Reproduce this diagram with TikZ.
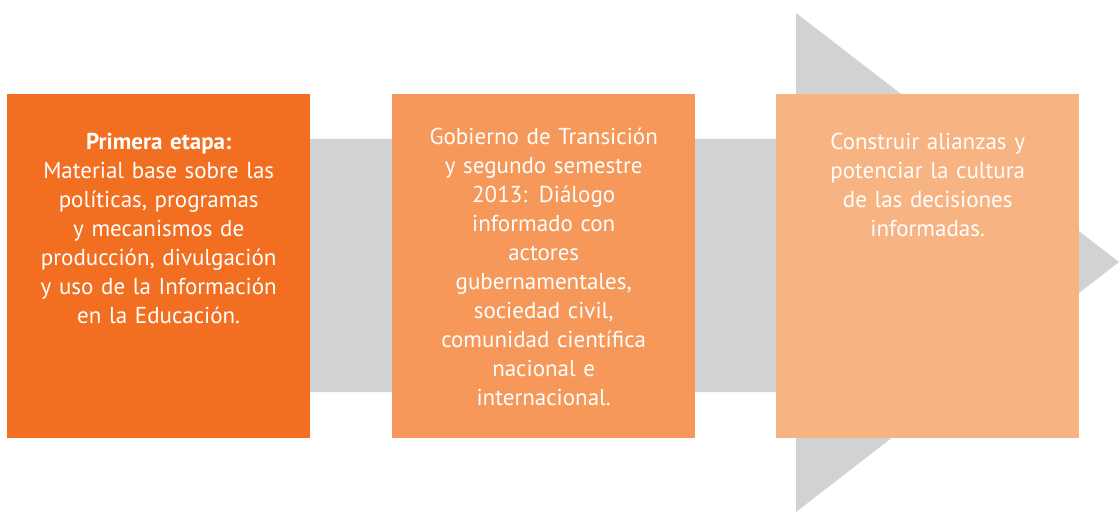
\documentclass[tikz,border=0pt]{standalone}
\usepackage{fontspec}
\setmainfont{PT Sans}
\usetikzlibrary{positioning}
\definecolor{etapaA}{HTML}{F26F21}
\definecolor{etapaB}{HTML}{F5985A}
\definecolor{etapaC}{HTML}{F8B383}
\definecolor{flecha}{HTML}{D1D2D4}
\tikzstyle{etapa}=[rectangle,draw=none,minimum width=303pt,minimum height=344pt,inner sep=0pt,anchor=north west]
\tikzstyle{texto}=[anchor=north,inner sep=0pt,text width=290pt,align=center,text=white,
  font=\fontsize{23pt}{29pt}\selectfont]

\begin{document}
\begin{tikzpicture}[x=1pt,y=1pt]
                \useasboundingbox (0,0) rectangle (1119,-513);
                % flecha de fondo
                \fill[flecha] (160,-139) -- (796,-139) -- (796,-13) -- (1119,-262)
                    -- (796,-512) -- (796,-392) -- (160,-392) -- cycle;
                \path (7,-94) node[etapa,fill=etapaA] (E1) {}
                    ++ (385,0) node[etapa,fill=etapaB] (E2) {}
                    ++ (384,0) node[etapa,fill=etapaC] (E3) {}
                    ;
                \node[texto,below=39pt of E1.north] (T1) {\textbf{Primera etapa:}\\
                    Material base sobre las\\ políticas, programas\\ y mecanismos de\\
                    producción, divulgación\\ y uso de la Información\\ en la Educación.};
                \node[texto,below=34pt of E2.north] (T2) {Gobierno de Transición\\
                    y segundo semestre\\ 2013: Diálogo\\ informado con\\ actores\\
                    gubernamentales,\\ sociedad civil,\\ comunidad científica\\
                    nacional e\\ internacional.};
                \node[texto,below=39pt of E3.north] (T3) {Construir alianzas y\\
                    potenciar la cultura\\ de las decisiones\\ informadas.};
            \end{tikzpicture}
\end{document}
